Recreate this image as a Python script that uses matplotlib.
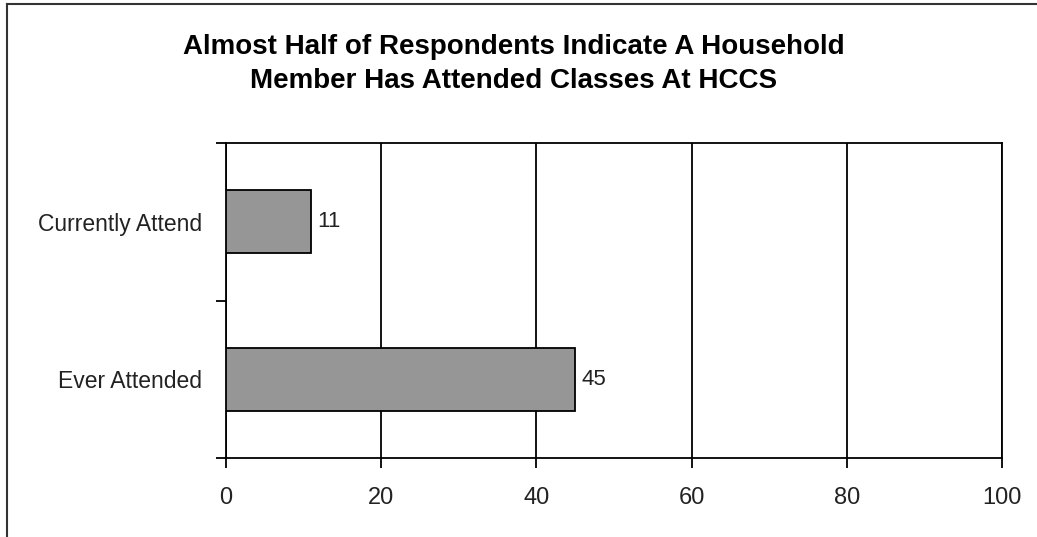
import matplotlib.pyplot as plt
from matplotlib.lines import Line2D

# data
categories = ['Ever Attended', 'Currently Attend']
values = [45, 11]
x_ticks = [0, 20, 40, 60, 80, 100]
title = 'Almost Half of Respondents Indicate A Household\nMember Has Attended Classes At HCCS'

plt.rcParams['font.family'] = ['Liberation Sans', 'DejaVu Sans']

fig = plt.figure(figsize=(10.37, 5.37), dpi=100)
ax = fig.add_axes([0.2179, 0.1471, 0.7483, 0.5866])

ypos = list(range(len(categories)))
bars = ax.barh(ypos, values, height=0.4, color='#969696', edgecolor='black', linewidth=1.3, zorder=3)
for b, v in zip(bars, values):
    ax.text(b.get_width() + 0.8, b.get_y() + b.get_height() / 2, str(v),
            va='center', ha='left', fontsize=16, color='#222222')

ax.set_xlim(0, 100)
ax.set_ylim(-0.5, 1.5)
ax.set_xticks(x_ticks)
ax.set_xticklabels([str(t) for t in x_ticks], fontsize=17, color='#222222')
ax.set_yticks(ypos)
ax.set_yticklabels(categories, fontsize=16.5, color='#222222')
ax.set_yticks([-0.5, 0.5, 1.5], minor=True)
ax.tick_params(axis='y', which='major', length=0, pad=17)
ax.tick_params(axis='y', which='minor', length=7, width=1.3, color='black')
ax.tick_params(axis='x', length=7, width=1.3, color='black', pad=14)
ax.grid(True, axis='x', color='black', linewidth=1.3, zorder=0)
for s in ax.spines.values():
    s.set_color('black')
    s.set_linewidth(1.3)

fig.text(0.495, 0.88, title, ha='center', va='center', fontsize=20,
         fontweight='bold', linespacing=1.4)

# outer chart border (left and top only visible)
fig.add_artist(Line2D([0.0065, 0.0065], [0, 0.993], transform=fig.transFigure, color='#333333', linewidth=1.5))
fig.add_artist(Line2D([0.0065, 1], [0.993, 0.993], transform=fig.transFigure, color='#333333', linewidth=1.5))

fig.savefig('out.png', dpi=100, facecolor='white')
